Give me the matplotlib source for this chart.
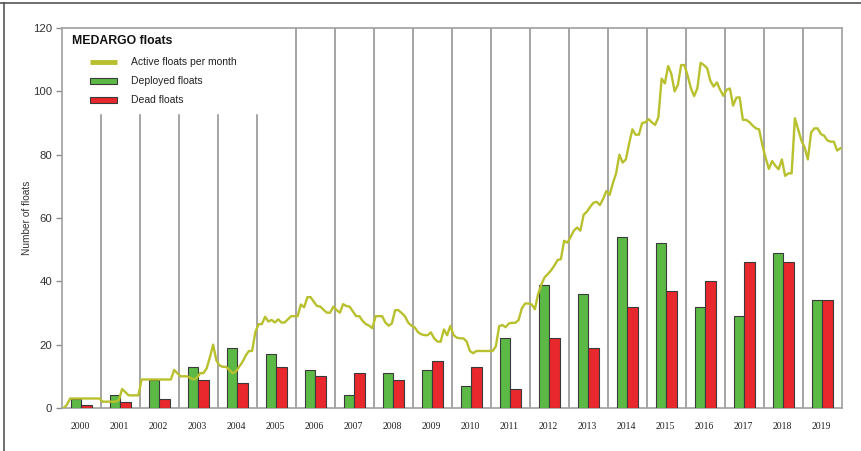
import numpy as np
import matplotlib
matplotlib.use("Agg")
import matplotlib.pyplot as plt
from matplotlib.lines import Line2D
from matplotlib.patches import Rectangle

# yearly counts
years = list(range(2000, 2020))
deployed = [3, 4, 9, 13, 19, 17, 12, 4, 11, 12, 7, 22, 39, 36, 54, 52, 32, 29, 49, 34]
dead = [1, 2, 3, 9, 8, 13, 10, 11, 9, 15, 13, 6, 22, 19, 32, 37, 40, 46, 46, 34]

# active floats, one value per month (Jan..Dec) for each year
active = [
    [0, 1, 3, 3, 3, 3, 3, 3, 3, 3, 3, 3],
    [2, 2, 2, 2, 2, 2.5, 6, 5, 4, 4, 4, 4],
    [9, 9, 9, 9, 9, 9, 9, 9, 9, 9, 12, 11],
    [10, 10, 10, 9.5, 9, 9.5, 11, 11, 12.5, 16, 20, 15],
    [13.4, 13, 13, 12, 11, 11.5, 13, 14.5, 16.5, 18, 18, 24],
    [26.5, 26.5, 28.8, 27.3, 27.8, 27, 28, 27, 27, 28, 29, 29],
    [29, 32.7, 31.8, 35, 35, 33.5, 32.2, 32, 31, 30.1, 30.1, 32],
    [30.9, 30.1, 32.8, 32.2, 32, 30.5, 29, 29, 27.5, 26.5, 26, 25.2],
    [29, 29, 29, 27, 26, 26.7, 30.9, 30.9, 30, 29, 27, 26],
    [25.5, 24, 23.3, 23, 23, 23.9, 22, 21, 20.9, 24.8, 23, 25.9],
    [23, 22.2, 22, 22, 21, 18, 17.3, 18, 18, 18, 18, 18],
    [18, 19.5, 25.8, 26.2, 25.5, 26.7, 26.9, 26.9, 27.8, 31.5, 33, 33],
    [32.7, 31.2, 36, 39, 41.3, 42.3, 43.5, 45, 46.7, 47, 52.8, 52.2],
    [54, 56, 57, 56, 61, 62, 63.5, 64.8, 65.1, 64.1, 66, 68.5],
    [67.3, 71, 74.1, 80, 77.5, 78.5, 83.5, 88, 86.3, 86.3, 90, 90.2],
    [91.2, 90.2, 89.4, 91.8, 104, 102.5, 108, 105.5, 100, 102, 108.3, 108.3],
    [105, 101, 98.5, 101, 109, 108.3, 107.3, 103.3, 101.5, 102.8, 100.5, 98.6],
    [100.5, 100.9, 95.5, 98, 98.1, 91, 91, 90.3, 89.2, 88.3, 88, 83],
    [79, 75.5, 78, 76.5, 75.4, 78.5, 73.3, 74.1, 74.1, 91.5, 88, 84.5],
    [82.3, 78.5, 87, 88.3, 88.3, 86.5, 86, 84.5, 84.1, 84.1, 81.3, 82],
]

legend_title = 'MEDARGO floats'
legend_labels = ['Active floats per month', 'Deployed floats', 'Dead floats']

green = '#5cb946'
red = '#e8282c'
olive = '#b8c02e'
grid_gray = '#8c8c8c'
edge = '#3a3a3a'

fig = plt.figure(figsize=(8.62, 4.51), dpi=100)
ax = fig.add_axes([62 / 862, 43 / 451, 780 / 862, 380 / 451])

idx = np.arange(len(years))
ax.bar(idx + 0.36, deployed, width=0.275, color=green, edgecolor=edge, linewidth=0.8, zorder=3)
ax.bar(idx + 0.635, dead, width=0.275, color=red, edgecolor=edge, linewidth=0.8, zorder=3)

act = np.array(active).ravel()
months = np.tile(np.arange(12), len(years))
xm = np.repeat(idx, 12) + (months + 0.5) / 12
ax.plot(xm, act, color=olive, lw=1.7, zorder=4)

# year separators (short ones under the legend)
for i in range(1, len(years)):
    top = 92.5 if i <= 5 else 120
    ax.plot([i, i], [0, top], color=grid_gray, lw=1.1, zorder=1)

ax.set_xlim(0, 20)
ax.set_ylim(0, 120)
ax.set_yticks(range(0, 121, 20))
ax.set_xticks(idx + 0.47)
ax.set_xticklabels([str(y) for y in years], family='Liberation Serif', fontsize=7, color='#222222')
ax.tick_params(axis='x', length=0, pad=10)
ax.tick_params(axis='y', length=4, width=1, color=grid_gray, pad=3, labelsize=8.2, labelcolor='#333333')
for lab in ax.get_yticklabels():
    lab.set_family('Liberation Sans')
for s in ax.spines.values():
    s.set_color('#a0a0a0')
    s.set_linewidth(1.2)
ax.set_ylabel('Number of floats', family='Liberation Sans', fontsize=7.3, color='#333333', labelpad=1)

# legend drawn by hand (entries indented under the title), in pixel-based axes fractions
W, H = 780.0, 380.0
def ax_xy(px, py):
    return (px - 62) / W, (408 - py) / H

tx, ty = ax_xy(72, 41)
ax.text(tx, ty, legend_title, transform=ax.transAxes, fontsize=8.8, fontweight='bold',
        family='Liberation Sans', va='center', ha='left', color='#111111')
rows = [62, 81, 100]
for k, (py, lab) in enumerate(zip(rows, legend_labels)):
    x0, yc = ax_xy(90, py)
    x1, _ = ax_xy(117, py)
    if k == 0:
        ax.add_line(Line2D([x0, x1], [yc, yc], transform=ax.transAxes, color=olive, lw=3.5,
                           solid_capstyle='butt', zorder=5))
    else:
        h = 6 / H
        ax.add_patch(Rectangle((x0, yc - h / 2), x1 - x0, h, transform=ax.transAxes,
                               facecolor=green if k == 1 else red, edgecolor=edge, lw=0.8, zorder=5))
    lx, _ = ax_xy(131, py)
    ax.text(lx, yc, lab, transform=ax.transAxes, fontsize=7.5, family='Liberation Sans',
            va='center', ha='left', color='#222222')

# frame of the figure
fig.add_artist(Line2D([0, 1], [1 - 3 / 451, 1 - 3 / 451], transform=fig.transFigure, color='#555555', lw=1.2))
fig.add_artist(Line2D([4 / 862, 4 / 862], [0, 1 - 3 / 451], transform=fig.transFigure, color='#555555', lw=1.2))

fig.savefig('out.png', dpi=100)
